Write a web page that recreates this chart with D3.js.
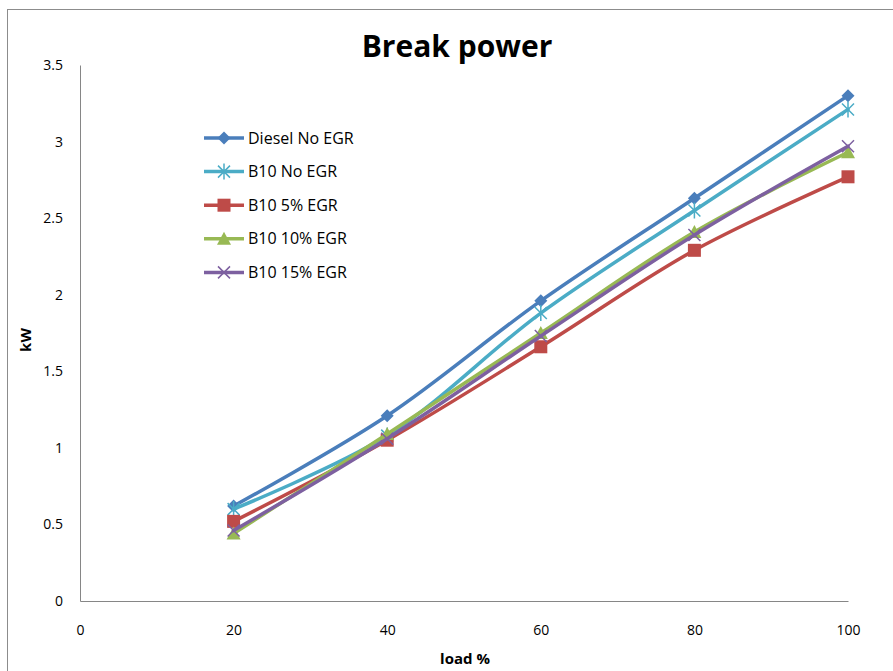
<!DOCTYPE html>
<html>
<head>
<meta charset="utf-8">
<script src="https://cdn.jsdelivr.net/npm/d3@7"></script>
<style>
  html, body { margin: 0; padding: 0; background: #fff; }
  svg { display: block; }
  text { font-family: "Liberation Sans Narrow", "Open Sans", "Liberation Sans", sans-serif; }
</style>
</head>
<body>
<svg id="chart" width="893" height="671"></svg>
<script>
// Engine load points (%)
const loads = [20, 40, 60, 80, 100];

// Brake power (kW) per fuel / EGR setting
const dieselNoEgr = [0.62, 1.21, 1.96, 2.63, 3.30];
const b10NoEgr    = [0.60, 1.08, 1.88, 2.55, 3.21];
const b10Egr5     = [0.52, 1.05, 1.66, 2.29, 2.77];
const b10Egr10    = [0.44, 1.09, 1.75, 2.41, 2.93];
const b10Egr15    = [0.46, 1.06, 1.73, 2.39, 2.97];

const seriesNames = ["Diesel No EGR", "B10 No EGR", "B10 5% EGR", "B10 10% EGR", "B10 15% EGR"];
const seriesValues = [dieselNoEgr, b10NoEgr, b10Egr5, b10Egr10, b10Egr15];

const xTicks = [0, 20, 40, 60, 80, 100];
const yTicks = [0, 0.5, 1, 1.5, 2, 2.5, 3, 3.5];

const colors  = ["#4A7EBB", "#4BACC6", "#BE4B48", "#98B954", "#7D60A0"];
const markers = ["diamond", "star", "square", "triangle", "cross"];

const svg = d3.select("#chart");

// outer chart frame
svg.append("rect")
  .attr("x", 7.5).attr("y", 9.5)
  .attr("width", 900).attr("height", 700)
  .attr("fill", "#fff").attr("stroke", "#8c8c8c").attr("stroke-width", 1);

const x = d3.scaleLinear().domain([0, 100]).range([80, 848]);
const y = d3.scaleLinear().domain([0, 3.5]).range([601, 65]);

// axes
const xAxis = d3.axisBottom(x).tickValues(xTicks).tickSize(0).tickPadding(24)
  .tickFormat(d3.format("d"));
const yAxis = d3.axisLeft(y).tickValues(yTicks).tickSize(0).tickPadding(17)
  .tickFormat(d => d === 0 ? "0" : String(d));

const gx = svg.append("g").attr("transform", "translate(0,601)").call(xAxis);
const gy = svg.append("g").attr("transform", "translate(80,0)").call(yAxis);
[gx, gy].forEach(g => {
  g.select(".domain").attr("stroke", "#868686").attr("stroke-width", 1);
  g.selectAll("text").attr("font-size", 14).attr("fill", "#000");
});

// title and axis labels
svg.append("text").attr("x", 457).attr("y", 57).attr("text-anchor", "middle")
  .attr("font-size", 30).attr("font-weight", "bold").text("Break power");
svg.append("text").attr("x", 465).attr("y", 664).attr("text-anchor", "middle")
  .attr("font-size", 15).attr("font-weight", "bold").text("load %");
svg.append("text").attr("transform", "translate(31,340) rotate(-90)")
  .attr("text-anchor", "middle").attr("font-size", 15).attr("font-weight", "bold").text("kW");

// marker shapes
function drawMarker(g, type, cx, cy, color) {
  const s = 6.5;
  if (type === "diamond") {
    g.append("path").attr("d", `M${cx},${cy - s} L${cx + s},${cy} L${cx},${cy + s} L${cx - s},${cy} Z`)
      .attr("fill", color);
  } else if (type === "square") {
    g.append("rect").attr("x", cx - 6.5).attr("y", cy - 6.5).attr("width", 13).attr("height", 13)
      .attr("fill", color);
  } else if (type === "triangle") {
    g.append("path").attr("d", `M${cx},${cy - 7} L${cx + 7},${cy + 6} L${cx - 7},${cy + 6} Z`)
      .attr("fill", color);
  } else if (type === "cross") {
    g.append("path").attr("d", `M${cx - 6},${cy - 6} L${cx + 6},${cy + 6} M${cx - 6},${cy + 6} L${cx + 6},${cy - 6}`)
      .attr("stroke", color).attr("stroke-width", 1.5);
  } else if (type === "star") {
    g.append("path").attr("d",
      `M${cx - 6},${cy - 6} L${cx + 6},${cy + 6} M${cx - 6},${cy + 6} L${cx + 6},${cy - 6} M${cx},${cy - 8} L${cx},${cy + 8}`)
      .attr("stroke", color).attr("stroke-width", 1.5);
  }
}

// smoothed series lines
const line = d3.line()
  .x(d => x(d[0])).y(d => y(d[1]))
  .curve(d3.curveCatmullRom.alpha(0.5));

seriesValues.forEach((vals, i) => {
  const pts = loads.map((l, j) => [l, vals[j]]);
  const g = svg.append("g");
  g.append("path").datum(pts).attr("d", line)
    .attr("fill", "none").attr("stroke", colors[i]).attr("stroke-width", 3.5)
    .attr("stroke-linejoin", "round").attr("stroke-linecap", "round");
  pts.forEach(p => drawMarker(g, markers[i], x(p[0]), y(p[1]), colors[i]));
});

// legend
const legend = svg.append("g");
seriesNames.forEach((name, i) => {
  const cy = 138 + i * 33.6;
  legend.append("line").attr("x1", 204).attr("x2", 244).attr("y1", cy).attr("y2", cy)
    .attr("stroke", colors[i]).attr("stroke-width", 3.5);
  drawMarker(legend, markers[i], 224, cy, colors[i]);
  legend.append("text").attr("x", 248).attr("y", cy + 5.5).attr("font-size", 16)
    .attr("fill", "#000").text(name);
});
</script>
</body>
</html>
